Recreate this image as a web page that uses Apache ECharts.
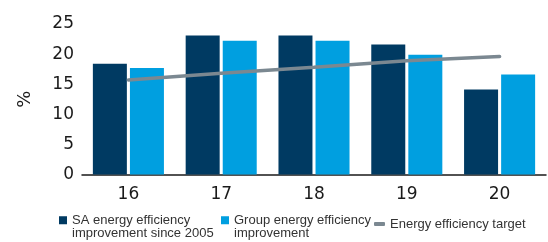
<!DOCTYPE html>
<html><head><meta charset="utf-8">
<script src="https://cdn.jsdelivr.net/npm/echarts@6/dist/echarts.min.js"></script>
<style>html,body{margin:0;padding:0;background:#fff}#c{width:548px;height:242px}</style>
</head><body><div id="c"></div>
<script>
const categories = ['16', '17', '18', '19', '20'];
const saValues = [18.4, 23.1, 23.1, 21.6, 14.1];
const groupValues = [17.7, 22.2, 22.2, 19.9, 16.6];
const targetValues = [15.7, 16.8, 17.8, 18.9, 19.6];
const yTicks = [0, 5, 10, 15, 20, 25];
const names = ['SA energy efficiency\nimprovement since 2005', 'Group energy efficiency\nimprovement', 'Energy efficiency target'];

const chart = echarts.init(document.getElementById('c'), null, {renderer: 'canvas'});
const legendText = {fontFamily: 'Liberation Sans', fontSize: 13, color: '#333333', lineHeight: 12.5};
const sqIcon = 'path://M0,0h8v8h-8z M0,21h8v0h-8z';
chart.setOption({
  animation: false,
  grid: {left: 82, right: 2, top: 24, bottom: 67.5},
  xAxis: {
    type: 'category', data: categories,
    axisLine: {lineStyle: {color: '#1a1a1a', width: 1.5}},
    axisTick: {show: false},
    axisLabel: {fontFamily: 'DejaVu Sans', fontSize: 17, color: '#1a1a1a', margin: 12}
  },
  yAxis: {
    type: 'value', min: yTicks[0], max: yTicks[yTicks.length - 1], interval: 5,
    name: '%', nameLocation: 'middle', nameGap: 48, nameRotate: 90,
    nameTextStyle: {fontFamily: 'DejaVu Sans', fontSize: 18, color: '#1a1a1a'},
    axisLine: {show: false}, axisTick: {show: false}, splitLine: {show: false},
    axisLabel: {fontFamily: 'DejaVu Sans', fontSize: 17, color: '#1a1a1a', margin: 8}
  },
  legend: [
    {data: [names[0]], left: 59, top: 214, padding: 0, itemWidth: 8, itemHeight: 21, itemGap: 0, textStyle: legendText, icon: sqIcon, symbolKeepAspect: false},
    {data: [names[1]], left: 221, top: 214, padding: 0, itemWidth: 8, itemHeight: 21, itemGap: 0, textStyle: legendText, icon: sqIcon, symbolKeepAspect: false},
    {data: [names[2]], left: 374, top: 217.5, padding: 0, itemWidth: 11, itemHeight: 4, itemGap: 0, textStyle: legendText, icon: 'roundRect'}
  ],
  series: [
    {name: names[0], type: 'bar', data: saValues, barWidth: 34, barGap: '9%', itemStyle: {color: '#003a62'}},
    {name: names[1], type: 'bar', data: groupValues, barWidth: 34, itemStyle: {color: '#009fe0'}},
    {name: names[2], type: 'line', data: targetValues, symbol: 'none', z: 5,
      lineStyle: {color: '#7b8891', width: 3.5, cap: 'round'}, itemStyle: {color: '#7b8891'}}
  ]
});
</script></body></html>
